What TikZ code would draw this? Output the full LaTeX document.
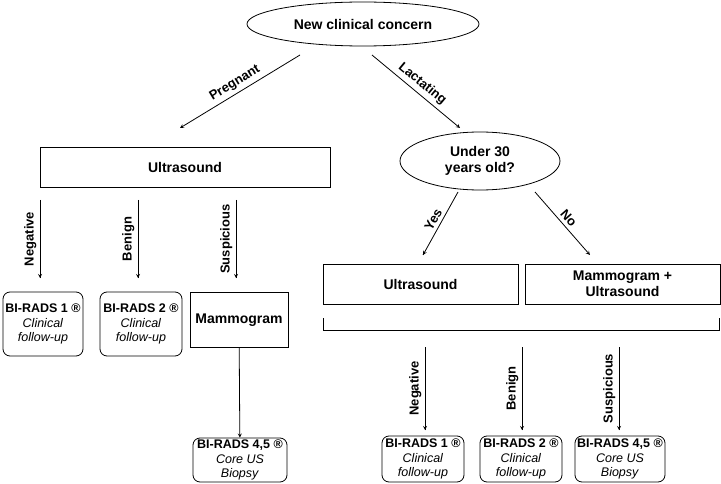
\documentclass[tikz,border=0pt]{standalone}
\usepackage{fontspec}
\setmainfont{Liberation Sans}
\usetikzlibrary{positioning,shapes.geometric}

\tikzset{
  box/.style={draw,thick,font=\fontsize{14}{16}\selectfont\bfseries,align=center,inner sep=2pt},
  result/.style={draw,thick,rounded corners=7pt,align=center,inner sep=1pt,font=\fontsize{12.5}{14.5}\selectfont},
  oval/.style={draw,thick,ellipse,font=\fontsize{14}{16}\selectfont\bfseries,align=center,inner sep=0pt},
  arr/.style={thick,-stealth},
  lbl/.style={font=\fontsize{13}{15}\selectfont\bfseries,midway,sloped,above}
}

\begin{document}
\begin{tikzpicture}[x=1pt,y=-1pt]
                \useasboundingbox (0,0) rectangle (721,484);
                % top
                \node[oval,minimum width=232,minimum height=44](top) at (363,24){New clinical concern};
                \coordinate (pa) at (300,55);
                \coordinate (pb) at (180,128);
                \coordinate (la) at (372,55);
                \coordinate (lb) at (460,128);
                \draw[arr](pa) -- node[lbl]{Pregnant}(pb);
                \draw[arr](la) -- node[lbl]{Lactating}(lb);
                % left branch
                \node[box,minimum width=290,minimum height=40](usl) at (185,167){Ultrasound};
                \node[result,minimum width=80,minimum height=64](r1) at (43,324){\textbf{BI-RADS 1 \textregistered}\\ \textit{Clinical}\\ \textit{follow-up}};
                \node[result,minimum width=82,minimum height=64](r2) at (141,324){\textbf{BI-RADS 2 \textregistered}\\ \textit{Clinical}\\ \textit{follow-up}};
                \node[box,minimum width=98,minimum height=55](mam) at (239,320){Mammogram};
                \node[result,minimum width=94,minimum height=44](r3) at (240,460){\textbf{BI-RADS 4,5 \textregistered}\\ \textit{Core US}\\ \textit{Biopsy}};
                \coordinate (n1) at (40,200);
                \coordinate (n2) at (40,278);
                \coordinate (b1) at (138,200);
                \coordinate (b2) at (138,278);
                \coordinate (s1) at (236,200);
                \coordinate (s2) at (236,278);
                \draw[arr](n2) -- node[lbl]{Negative}(n1) (n1) -- (n2);
                \draw[arr](b2) -- node[lbl]{Benign}(b1) (b1) -- (b2);
                \draw[arr](s2) -- node[lbl]{Suspicious}(s1) (s1) -- (s2);
                \draw[arr](mam) -- (r3);
                % right branch
                \node[oval,minimum width=160,minimum height=58](age) at (480,161){Under 30\\ years old?};
                \coordinate (ya) at (458,192);
                \coordinate (yb) at (423,255);
                \coordinate (na) at (535,192);
                \coordinate (nb) at (590,255);
                \draw[arr](yb) -- node[lbl]{Yes}(ya) (ya) -- (yb);
                \draw[arr](na) -- node[lbl]{No}(nb);
                \node[box,minimum width=195,minimum height=40](usr) at (420.5,284){Ultrasound};
                \node[box,minimum width=195,minimum height=40](mus) at (622.5,284){Mammogram +\\ Ultrasound};
                \coordinate (k1) at (323,318);
                \coordinate (k2) at (323,330);
                \coordinate (k3) at (719,330);
                \coordinate (k4) at (719,318);
                \draw[thick](k1) -- (k2) -- (k3) -- (k4);
                \node[result,minimum width=82,minimum height=46](q1) at (423,459){\textbf{BI-RADS 1 \textregistered}\\ \textit{Clinical}\\ \textit{follow-up}};
                \node[result,minimum width=82,minimum height=46](q2) at (521,459){\textbf{BI-RADS 2 \textregistered}\\ \textit{Clinical}\\ \textit{follow-up}};
                \node[result,minimum width=90,minimum height=46](q3) at (620,459){\textbf{BI-RADS 4,5 \textregistered}\\ \textit{Core US}\\ \textit{Biopsy}};
                \coordinate (m1) at (425,347);
                \coordinate (m2) at (425,430);
                \coordinate (m3) at (522,347);
                \coordinate (m4) at (522,430);
                \coordinate (m5) at (619,347);
                \coordinate (m6) at (619,430);
                \draw[arr](m2) -- node[lbl]{Negative}(m1) (m1) -- (m2);
                \draw[arr](m4) -- node[lbl]{Benign}(m3) (m3) -- (m4);
                \draw[arr](m6) -- node[lbl]{Suspicious}(m5) (m5) -- (m6);
            \end{tikzpicture}
\end{document}
